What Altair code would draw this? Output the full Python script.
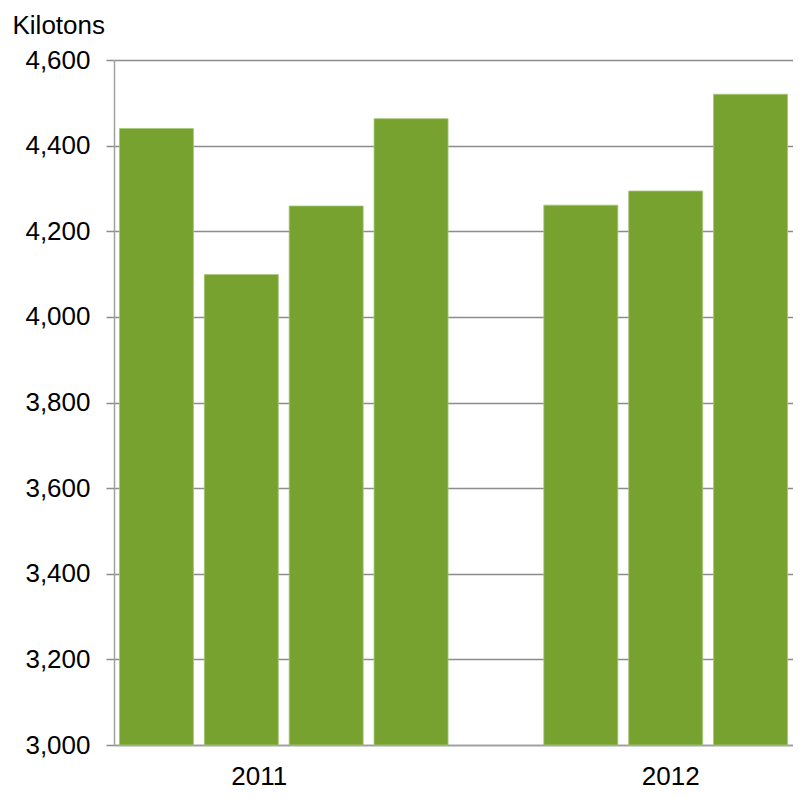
import altair as alt
import pandas as pd

categories = ["2011 Q1", "2011 Q2", "2011 Q3", "2011 Q4", "gap", "2012 Q1", "2012 Q2", "2012 Q3"]
values = [4440, 4099, 4259, 4463, None, 4261, 4294, 4520]
y_ticks = [3000, 3200, 3400, 3600, 3800, 4000, 4200, 4400, 4600]

df = pd.DataFrame({"cat": categories, "value": values}).dropna()

FONT = "Liberation Sans"

chart = alt.Chart(df).mark_bar(
    color="#78A22F", stroke="#a8c77a", strokeWidth=0.8
).encode(
    x=alt.X(
        "cat:N",
        sort=categories,
        scale=alt.Scale(domain=categories, paddingInner=0.128, paddingOuter=0.064),
        axis=alt.Axis(
            title=None,
            ticks=False,
            labelAngle=0,
            labelFontSize=26,
            labelFont=FONT,
            labelColor="#000000",
            labelPadding=18,
            labelExpr="datum.value == '2011 Q2' ? '2011' : (datum.value == '2012 Q2' ? '2012' : '')",
            labelOffset={"condition": {"test": "datum.value == '2011 Q2'", "value": 18}, "value": 5},
            domainColor="#a0a0a0",
            domainWidth=1.5,
            grid=False,
        ),
    ),
    y=alt.Y(
        "value:Q",
        scale=alt.Scale(domain=[3000, 4600], zero=False, nice=False, clamp=True),
        axis=alt.Axis(
            values=y_ticks,
            format=",d",
            title="Kilotons",
            titleAngle=0,
            titleAlign="left",
            titleBaseline="alphabetic",
            titleX=-102,
            titleY=-27,
            titleFont=FONT,
            titleFontSize=26,
            titleFontWeight="normal",
            titleColor="#000000",
            labelFont=FONT,
            labelFontSize=26,
            labelColor="#000000",
            labelPadding=16,
            tickSize=8,
            tickColor="#8c8c8c",
            tickWidth=1.5,
            domainColor="#a0a0a0",
            domainWidth=1.5,
            grid=True,
            gridColor="#8c8c8c",
            gridWidth=1.5,
        ),
    ),
).properties(
    width=679,
    height=685,
    autosize=alt.AutoSizeParams(type="none"),
    padding={"left": 106, "top": 52, "right": 0, "bottom": 45},
).configure_view(stroke=None)

chart.save("out.html", embed_options={"renderer": "svg", "actions": False})
